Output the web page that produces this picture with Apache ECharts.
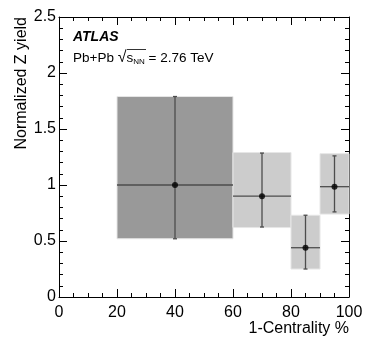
<!DOCTYPE html>
<html>
<head>
<meta charset="utf-8">
<script src="https://cdn.jsdelivr.net/npm/echarts@6/dist/echarts.min.js"></script>
<style>html,body{margin:0;padding:0;background:#fff;}#c{width:368px;height:353px;}</style>
</head>
<body>
<div id="c"></div>
<script>
var binLow = [20, 60, 80, 90];
var binHigh = [60, 80, 90, 100];
var centers = [40, 70, 85, 95];
var values = [1.0, 0.90, 0.44, 0.985];
var statLow = [0.52, 0.625, 0.25, 0.76];
var statHigh = [1.79, 1.285, 0.73, 1.26];
var sysLow = [0.52, 0.62, 0.25, 0.74];
var sysHigh = [1.79, 1.29, 0.73, 1.28];
var boxShade = ['#999999', '#cccccc', '#cccccc', '#cccccc'];
var xTicks = [0, 20, 40, 60, 80, 100];
var yTicks = [0, 0.5, 1, 1.5, 2, 2.5];

var boxData = binLow.map(function (l, i) { return [l, binHigh[i], sysLow[i], sysHigh[i], i]; });
var errData = centers.map(function (c, i) { return [c, values[i], binLow[i], binHigh[i], statLow[i], statHigh[i]]; });
var ptData = centers.map(function (c, i) { return [c, values[i]]; });

var font = 'Liberation Sans, Arial, Helvetica, sans-serif';
var chart = echarts.init(document.getElementById('c'), null, { renderer: 'canvas' });

function axisCommon(show) {
  return {
    axisLine: { show: true, onZero: false, lineStyle: { color: '#000', width: 1 } },
    axisTick: { show: true, inside: true, length: 8, lineStyle: { color: '#000' } },
    minorTick: { show: true, splitNumber: 4, length: 4, lineStyle: { color: '#000' } },
    splitLine: { show: false },
    axisLabel: { show: show, color: '#000', fontFamily: font, fontSize: 16 }
  };
}

var x0 = Object.assign({ type: 'value', min: 0, max: 100, interval: 20, position: 'bottom' }, axisCommon(true));
x0.axisLabel.margin = 8;
var x1 = Object.assign({ type: 'value', min: 0, max: 100, interval: 20, position: 'top' }, axisCommon(false));
var y0 = Object.assign({ type: 'value', min: 0, max: 2.5, interval: 0.5, position: 'left' }, axisCommon(true));
y0.minorTick.splitNumber = 5;
y0.axisLabel.margin = 3;
y0.axisLabel.formatter = function (v) { return String(v); };
var y1 = Object.assign({ type: 'value', min: 0, max: 2.5, interval: 0.5, position: 'right' }, axisCommon(false));
y1.minorTick.splitNumber = 5;

var option = {
  animation: false,
  backgroundColor: '#fff',
  grid: { left: 59, right: 19, top: 17, bottom: 56, containLabel: false },
  xAxis: [x0, x1],
  yAxis: [y0, y1],
  series: [
    {
      type: 'custom',
      data: boxData,
      z: 1,
      renderItem: function (params, api) {
        var p1 = api.coord([api.value(0), api.value(3)]);
        var p2 = api.coord([api.value(1), api.value(2)]);
        return {
          type: 'rect',
          shape: { x: p1[0], y: p1[1], width: p2[0] - p1[0], height: p2[1] - p1[1] },
          style: { fill: boxShade[api.value(4)], stroke: '#e6e6e6', lineWidth: 1 }
        };
      }
    },
    {
      type: 'custom',
      data: errData,
      z: 2,
      renderItem: function (params, api) {
        var c = api.coord([api.value(0), api.value(1)]);
        var l = api.coord([api.value(2), api.value(1)]);
        var r = api.coord([api.value(3), api.value(1)]);
        var lo = api.coord([api.value(0), api.value(4)]);
        var hi = api.coord([api.value(0), api.value(5)]);
        var st = { stroke: '#4d4d4d', lineWidth: 1.3 };
        return {
          type: 'group',
          children: [
            { type: 'line', shape: { x1: l[0], y1: c[1], x2: r[0], y2: c[1] }, style: st },
            { type: 'line', shape: { x1: c[0], y1: lo[1], x2: c[0], y2: hi[1] }, style: st },
            { type: 'line', shape: { x1: c[0] - 2, y1: lo[1], x2: c[0] + 2, y2: lo[1] }, style: st },
            { type: 'line', shape: { x1: c[0] - 2, y1: hi[1], x2: c[0] + 2, y2: hi[1] }, style: st }
          ]
        };
      }
    },
    {
      type: 'scatter',
      data: ptData,
      symbol: 'circle',
      symbolSize: 6,
      z: 3,
      itemStyle: { color: '#000' }
    }
  ],
  graphic: [
    {
      type: 'text', x: 22, y: 17, rotation: Math.PI / 2, origin: [0, 0],
      style: { text: 'Normalized Z yield', font: '16px ' + font, fill: '#000', align: 'right', verticalAlign: 'middle' }
    },
    {
      type: 'text', x: 349, y: 329,
      style: { text: '1-Centrality %', font: '16px ' + font, fill: '#000', align: 'right', verticalAlign: 'middle' }
    },
    {
      type: 'text', x: 73, y: 37,
      style: { text: 'ATLAS', font: 'italic bold 14px ' + font, fill: '#000', align: 'left', verticalAlign: 'middle' }
    },
    {
      type: 'text', x: 73, y: 58,
      style: {
        text: '{a|Pb+Pb }{r|√}{s|s}{n|NN}{a| = 2.76 TeV}',
        align: 'left', verticalAlign: 'middle',
        rich: {
          a: { font: '13.5px ' + font, color: '#000' },
          r: { font: '16px ' + font, color: '#000' },
          s: { font: '13.5px ' + font, color: '#000' },
          n: { font: '8px ' + font, color: '#000', padding: [8, 0, 0, 0] }
        }
      }
    },
    {
      type: 'line', shape: { x1: 127, y1: 49.5, x2: 146, y2: 49.5 }, style: { stroke: '#000', lineWidth: 0.8 }
    }
  ]
};
chart.setOption(option);
</script>
</body>
</html>
